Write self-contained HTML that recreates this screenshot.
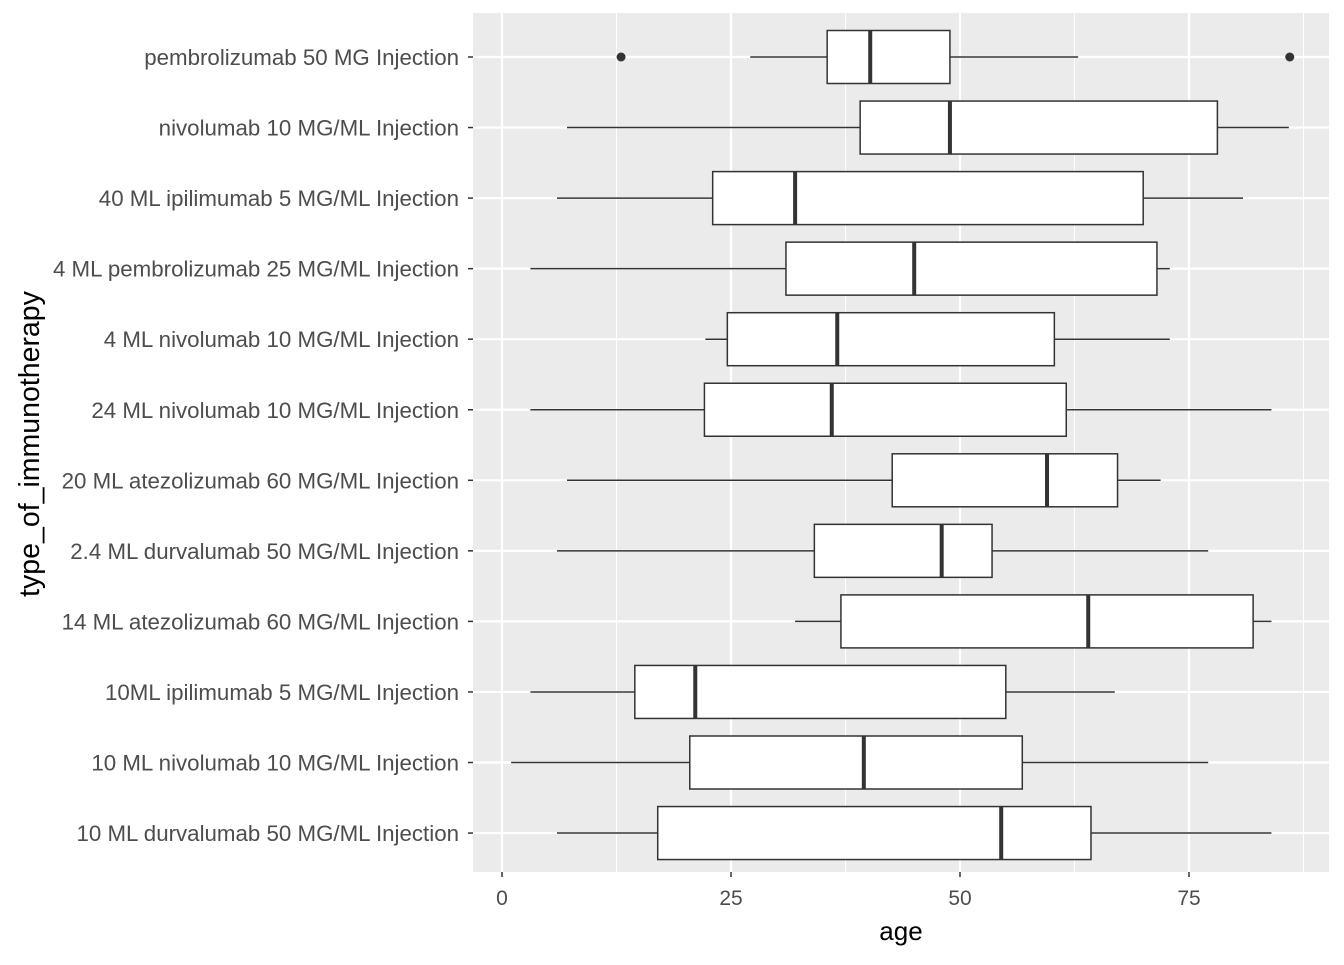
<!DOCTYPE html>
<html><head><meta charset="utf-8"><style>
body{margin:0;background:#fff;font-family:"Liberation Sans",sans-serif;}
</style></head><body>
<svg id="c" width="1344" height="960" xmlns="http://www.w3.org/2000/svg"></svg>
<script>
const categories=["pembrolizumab 50 MG Injection","nivolumab 10 MG/ML Injection","40 ML ipilimumab 5 MG/ML Injection","4 ML pembrolizumab 25 MG/ML Injection","4 ML nivolumab 10 MG/ML Injection","24 ML nivolumab 10 MG/ML Injection","20 ML atezolizumab 60 MG/ML Injection","2.4 ML durvalumab 50 MG/ML Injection","14 ML atezolizumab 60 MG/ML Injection","10ML ipilimumab 5 MG/ML Injection","10 ML nivolumab 10 MG/ML Injection","10 ML durvalumab 50 MG/ML Injection"];
const lowerWhisker=[27.1,7.1,6,3.1,22.2,3.1,7.1,6,32,3.1,1,6];
const q1=[35.5,39.1,23,31,24.6,22.1,42.6,34.1,37,14.5,20.5,17];
const median=[40.2,48.9,32,45,36.6,36,59.5,48,64,21.1,39.5,54.5];
const q3=[48.9,78.1,70,71.5,60.3,61.6,67.2,53.5,82,55,56.8,64.3];
const upperWhisker=[62.9,85.9,80.9,72.9,72.9,84,71.9,77.1,84,66.9,77.1,84];
const outliers=[[13,86],[],[],[],[],[],[],[],[],[],[],[]];
const xTicks=[0,25,50,75];
const NS="http://www.w3.org/2000/svg";
const svg=document.getElementById('c');
const L=473,R=1329,T=13,B=872;
const x=v=>502+v*9.16;
const step=70.55;
const y=i=>57+step*i;
function mk(t,a,p){const e=document.createElementNS(NS,t);for(const k in a)e.setAttribute(k,a[k]);(p||svg).appendChild(e);return e;}
const bg=mk('rect',{x:L,y:T,width:R-L,height:B-T,fill:'#ebebeb'});


xTicks.forEach(t=>{const m=mk('line',{x1:x(t+12.5),x2:x(t+12.5),y1:T,y2:B,stroke:'#fff','stroke-width':1});

});
xTicks.forEach(t=>{const g=mk('line',{x1:x(t),x2:x(t),y1:T,y2:B,stroke:'#fff','stroke-width':2.2});


mk('line',{x1:x(t),x2:x(t),y1:B,y2:B+5,stroke:'#333','stroke-width':1.5});
const tx=mk('text',{x:x(t),y:B+33,'text-anchor':'middle','font-size':21,fill:'#4d4d4d'});tx.textContent=t;

});
categories.forEach((c,i)=>{const yy=y(i);
const g=mk('line',{x1:L,x2:R,y1:yy,y2:yy,stroke:'#fff','stroke-width':2.2});


mk('line',{x1:L-5,x2:L,y1:yy,y2:yy,stroke:'#333','stroke-width':1.5});
const tx=mk('text',{x:L-14,y:yy+8,'text-anchor':'end','font-size':22.3,fill:'#4d4d4d'});tx.textContent=c;


const grp=mk('g',{});


const h=53;
mk('line',{x1:x(lowerWhisker[i]),x2:x(q1[i]),y1:yy,y2:yy,stroke:'#333','stroke-width':1.5},grp);
mk('line',{x1:x(q3[i]),x2:x(upperWhisker[i]),y1:yy,y2:yy,stroke:'#333','stroke-width':1.5},grp);
mk('rect',{x:x(q1[i]),y:yy-h/2,width:x(q3[i])-x(q1[i]),height:h,fill:'#fff',stroke:'#333','stroke-width':1.5},grp);
mk('line',{x1:x(median[i]),x2:x(median[i]),y1:yy-h/2,y2:yy+h/2,stroke:'#333','stroke-width':4},grp);
outliers[i].forEach(o=>{const p=mk('circle',{cx:x(o),cy:yy,r:4.5,fill:'#333'},grp);

});
});
const xt=mk('text',{x:(L+R)/2,y:940,'text-anchor':'middle','font-size':26,fill:'#000'});xt.textContent='age';


const yt=mk('text',{x:0,y:0,'text-anchor':'middle','font-size':28.5,fill:'#000',transform:`translate(39,444) rotate(-90)`});yt.textContent='type_of_immunotherapy';


</script>
</body></html>
